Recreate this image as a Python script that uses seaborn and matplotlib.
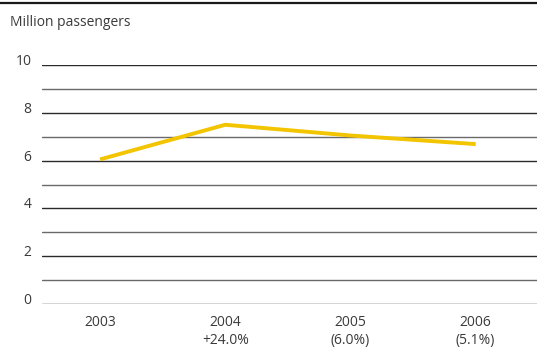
import matplotlib
matplotlib.use("Agg")
import matplotlib.pyplot as plt
from matplotlib.lines import Line2D
import seaborn as sns
import pandas as pd

# Passenger volumes (millions) with year-on-year change
years = ["2003", "2004", "2005", "2006"]
changes = ["", "+24.0%", "(6.0%)", "(5.1%)"]
passengers = [6.05, 7.50, 7.05, 6.69]
y_ticks = [0, 2, 4, 6, 8, 10]

sns.set_theme(style="white")
plt.rcParams["font.family"] = ["Open Sans", "DejaVu Sans"]

text_color = "#3a3a3a"
line_color = "#F2C500"
fs = 10

df = pd.DataFrame({"pos": range(len(years)), "value": passengers})

fig = plt.figure(figsize=(5.37, 3.5), dpi=100)
ax = fig.add_axes([42 / 537, 46 / 350, 1 - 42 / 537, (304 - 65) / 350])

# horizontal rules every unit: darker at labelled ticks
for v in range(0, 11):
    ax.axhline(v, color="#2a2a2a" if v % 2 == 0 else "#6a6a6a",
               lw=1.0, zorder=1)

sns.lineplot(data=df, x="pos", y="value", color=line_color, lw=2.8,
             ax=ax, zorder=3, solid_capstyle="butt")

ax.set_ylim(0, 10)
ax.set_xlim(-0.464, 3.49)
for s in ax.spines.values():
    s.set_visible(False)

ax.set_yticks(y_ticks)
ax.set_yticklabels([str(t) for t in y_ticks])
ax.tick_params(axis="y", length=0, pad=7.5, labelsize=fs, labelcolor=text_color)
for lab in ax.get_yticklabels():
    lab.set_verticalalignment("baseline")

ax.set_xticks(range(len(years)))
ax.set_xticklabels([f"{y}\n{c}" if c else y for y, c in zip(years, changes)],
                   linespacing=1.25)
ax.tick_params(axis="x", length=0, pad=8, labelsize=fs, labelcolor=text_color)
for lab in ax.get_xticklabels():
    lab.set_verticalalignment("top")
ax.set_xlabel("")
ax.set_ylabel("")

fig.text(10 / 537, 1 - 22 / 350, "Million passengers", fontsize=fs,
         color=text_color, va="center", ha="left")

# heavy rule across the top of the figure
fig.add_artist(Line2D([0, 1], [1 - 2.5 / 350, 1 - 2.5 / 350],
                      transform=fig.transFigure, color="#1a1a1a", lw=1.6))

fig.savefig("out.png", dpi=100)
